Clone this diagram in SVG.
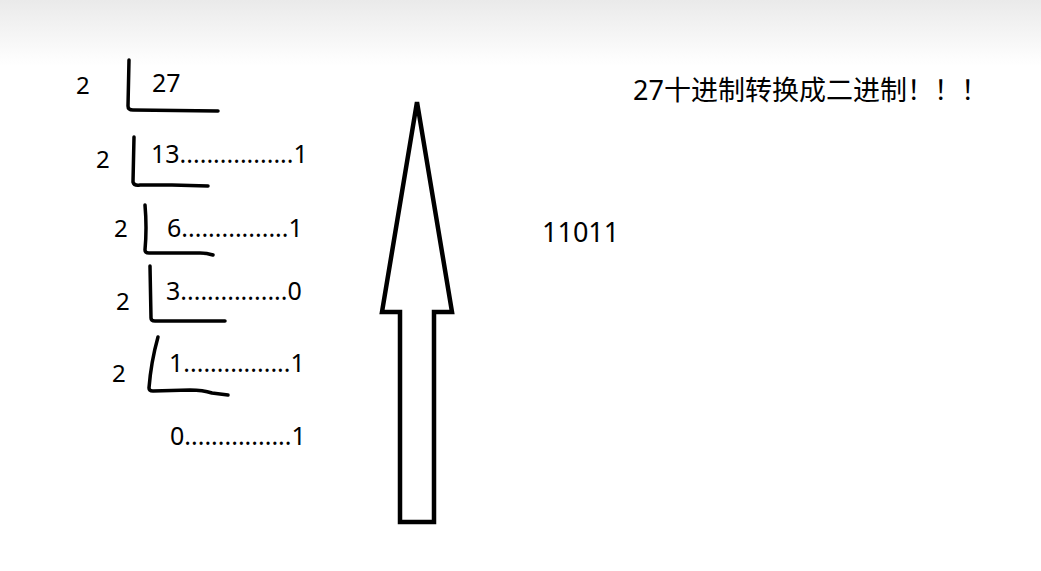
<svg xmlns="http://www.w3.org/2000/svg" width="1041" height="571" viewBox="0 0 1041 571">
<defs>
<linearGradient id="topbar" x1="0" y1="0" x2="0" y2="1">
<stop offset="0" stop-color="#eaeaea"/>
<stop offset="1" stop-color="#ffffff"/>
</linearGradient>
<style>
.t{font-family:"Noto Sans","Noto Sans CJK SC",sans-serif;fill:#000}
.d{font-size:24px}
.q{font-size:25px}
.b{fill:none;stroke:#000;stroke-width:3.5;stroke-linecap:round;stroke-linejoin:round}
</style>
</defs>
<rect width="1041" height="571" fill="#fff"/>
<rect width="1041" height="66" fill="url(#topbar)"/>
<g id="row1">
<text class="t d" x="76" y="94">2</text>
<path class="b" d="M129,60 L128,106 Q128,110 133,110 L218,111"/>
<text class="t q" x="152" y="92">27</text>
</g>
<g id="row2">
<text class="t d" x="96" y="168">2</text>
<path class="b" d="M134,137 L133,182 Q134,186 140,185 L172,185 L208,186"/>
<text class="t q" x="151" y="163">13.................1</text>
</g>
<g id="row3">
<text class="t d" x="114" y="237">2</text>
<path class="b" d="M145,205 Q147,228 145,250 Q145,253 149,253 L200,253 Q207,253 213,255"/>
<text class="t q" x="167" y="237">6................1</text>
</g>
<g id="row4">
<text class="t d" x="116" y="310">2</text>
<path class="b" d="M150,266 L151,318 Q151,321 155,321 L225,321"/>
<text class="t q" x="166" y="300">3................0</text>
</g>
<g id="row5">
<text class="t d" x="112" y="382">2</text>
<path class="b" d="M158,337 Q151,362 149,388 Q149,391 153,391 L190,390 Q203,390 212,393 L228,395"/>
<text class="t q" x="169" y="372">1................1</text>
</g>
<g id="row6">
<text class="t q" x="170" y="445">0................1</text>
</g>
<g id="arrow">
<polygon points="417,102 452,312 434,312 434,522 400,522 400,312 382,312" fill="#fff" stroke="#000" stroke-width="4.5" stroke-linejoin="miter"/>
</g>
<g id="result">
<text class="t" x="542" y="242" font-size="27">11011</text>
</g>
<g id="title">
<text class="t" x="633" y="100" font-size="27">27十进制转换成二进制！！！</text>
</g>
</svg>
